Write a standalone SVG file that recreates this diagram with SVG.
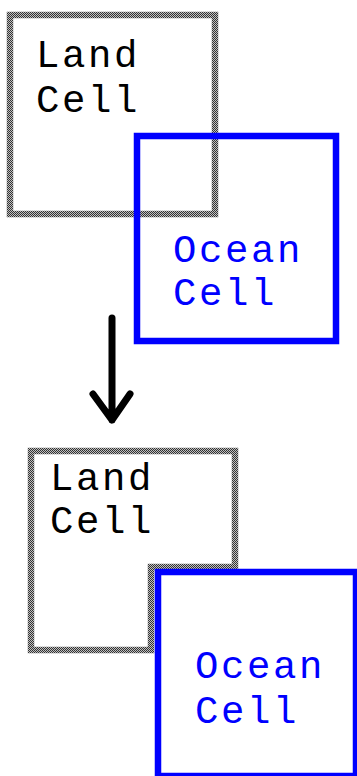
<svg xmlns="http://www.w3.org/2000/svg" width="357" height="776" viewBox="0 0 357 776">
  <defs>
    <pattern id="checker" patternUnits="userSpaceOnUse" width="2" height="2">
      <rect width="2" height="2" fill="#c0c0c0"/>
      <rect x="0" y="0" width="1" height="1" fill="#333333"/>
      <rect x="1" y="1" width="1" height="1" fill="#333333"/>
    </pattern>
  </defs>
  <style>
    .land { fill: none; stroke: url(#checker); stroke-width: 6.5; stroke-linejoin: miter; }
    .ocean { fill: none; stroke: #0000ff; stroke-width: 6.5; }
    .lbl { font-family: "Liberation Mono", "Courier New", monospace; font-size: 39px; letter-spacing: 2.6px; }
    .lt { fill: #000000; }
    .ot { fill: #0000ff; }
    .arrow { fill: none; stroke: #000000; stroke-width: 7; stroke-linecap: round; stroke-linejoin: round; }
  </style>
  <rect width="357" height="776" fill="#ffffff"/>

  <g id="land-top">
    <rect class="land" x="10" y="15" width="205" height="199"/>
    <text class="lbl lt" x="36" y="67">Land</text>
    <text class="lbl lt" x="36" y="112">Cell</text>
  </g>
  <g id="ocean-top">
    <rect class="ocean" x="137" y="136" width="199" height="205"/>
    <text class="lbl ot" x="173" y="262">Ocean</text>
    <text class="lbl ot" x="173" y="305">Cell</text>
  </g>

  <g id="land-bottom">
    <polygon class="land" points="31,451 235,451 235,567 151,567 151,650 31,650"/>
    <text class="lbl lt" x="50" y="490">Land</text>
    <text class="lbl lt" x="50" y="533">Cell</text>
  </g>
  <g id="ocean-bottom">
    <rect class="ocean" x="158" y="572" width="198" height="204"/>
    <text class="lbl ot" x="195" y="678">Ocean</text>
    <text class="lbl ot" x="195" y="723">Cell</text>
  </g>

  <g id="connectors">
    <path class="arrow" d="M112 318 V420 M93 394 L112 420 L130 394"/>
  </g>
</svg>
